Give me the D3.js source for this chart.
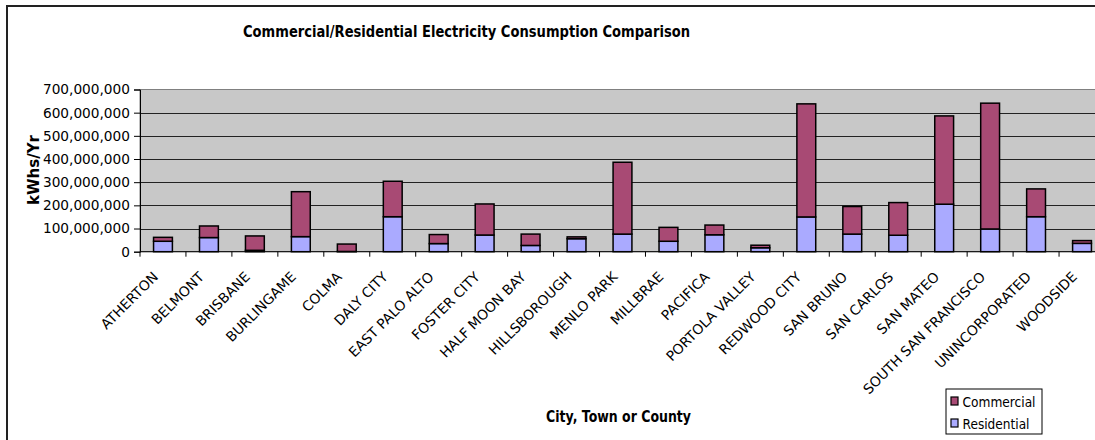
<!DOCTYPE html>
<html>
<head>
<meta charset="utf-8">
<script src="https://cdn.jsdelivr.net/npm/d3@7"></script>
<style>
  body { margin: 0; background: #fff; }
  svg text { font-family: "DejaVu Sans", Verdana, sans-serif; }
</style>
</head>
<body>
<div id="chart"></div>
<script>
// city list and the two stacked series, kWh per year
const cities = ["ATHERTON", "BELMONT", "BRISBANE", "BURLINGAME", "COLMA", "DALY CITY",
  "EAST PALO ALTO", "FOSTER CITY", "HALF MOON BAY", "HILLSBOROUGH", "MENLO PARK",
  "MILLBRAE", "PACIFICA", "PORTOLA VALLEY", "REDWOOD CITY", "SAN BRUNO", "SAN CARLOS",
  "SAN MATEO", "SOUTH SAN FRANCISCO", "UNINCORPORATED", "WOODSIDE"];

const residential = [45e6, 61e6, 6e6, 65e6, 1e6, 151e6, 35e6, 72e6, 27e6, 56e6, 76e6,
  45e6, 73e6, 17e6, 150e6, 76e6, 71e6, 205e6, 98e6, 151e6, 36e6];

const commercial = [17e6, 50e6, 62e6, 194e6, 32e6, 153e6, 39e6, 134e6, 49e6, 8e6, 310e6,
  60e6, 42e6, 11e6, 488e6, 119e6, 141e6, 381e6, 543e6, 120e6, 12e6];

const yTicks = [0, 100e6, 200e6, 300e6, 400e6, 500e6, 600e6, 700e6];

const seriesNames = ["Residential", "Commercial"];
const colors = { Residential: "#AAAAFF", Commercial: "#A84A74" };

const width = 1095, height = 440;
const plot = { left: 140, right: 1105, top: 89.5, bottom: 251.7 };

const svg = d3.select("#chart")
  .append("svg")
  .attr("width", width)
  .attr("height", height);

// outer chart frame (runs off the right and bottom of the window)
svg.append("rect")
  .attr("x", 7)
  .attr("y", 6)
  .attr("width", 1120)
  .attr("height", 460)
  .attr("fill", "#fff")
  .attr("stroke", "#222")
  .attr("stroke-width", 2);

svg.append("text")
  .attr("x", 466.5)
  .attr("y", 36.5)
  .attr("text-anchor", "middle")
  .attr("font-size", "15.5px")
  .attr("font-weight", "bold")
  .attr("textLength", 447)
  .attr("lengthAdjust", "spacingAndGlyphs")
  .text("Commercial/Residential Electricity Consumption Comparison");

const x = d3.scaleBand()
  .domain(cities)
  .range([plot.left, plot.right])
  .paddingInner(0.59)
  .paddingOuter(0.295);

const y = d3.scaleLinear()
  .domain([0, 700e6])
  .range([plot.bottom, plot.top]);

// plot area
svg.append("rect")
  .attr("x", plot.left)
  .attr("y", plot.top)
  .attr("width", plot.right - plot.left)
  .attr("height", plot.bottom - plot.top)
  .attr("fill", "#C8C8C8")
  .attr("stroke", "#808080")
  .attr("stroke-width", 1);

svg.selectAll(".grid")
  .data(yTicks.filter(d => d > 0 && d < 700e6))
  .enter()
  .append("line")
  .attr("x1", plot.left)
  .attr("x2", plot.right)
  .attr("y1", d => Math.round(y(d)) + 0.5)
  .attr("y2", d => Math.round(y(d)) + 0.5)
  .attr("stroke", "#222")
  .attr("stroke-width", 1);

const table = cities.map((c, i) => ({
  city: c,
  Residential: residential[i],
  Commercial: commercial[i]
}));

const stacked = d3.stack().keys(seriesNames)(table);

svg.selectAll(".series")
  .data(stacked)
  .enter()
  .append("g")
  .attr("fill", d => colors[d.key])
  .selectAll("rect")
  .data(d => d)
  .enter()
  .append("rect")
  .attr("x", d => x(d.data.city))
  .attr("y", d => y(d[1]))
  .attr("width", x.bandwidth())
  .attr("height", d => y(d[0]) - y(d[1]))
  .attr("stroke", "#000")
  .attr("stroke-width", 1.5);

// y axis
const yAxis = svg.append("g")
  .attr("transform", `translate(${plot.left},0)`)
  .call(d3.axisLeft(y).tickValues(yTicks).tickSize(6).tickPadding(4)
    .tickFormat(d3.format(",")));
yAxis.select(".domain").attr("stroke", "#000");
yAxis.selectAll("text")
  .attr("font-size", "13.7px")
  .attr("fill", "#000")
  .attr("font-family", "DejaVu Sans, Verdana, sans-serif");

// x axis, ticks between categories like Excel
const xAxis = svg.append("g")
  .attr("transform", `translate(0,${plot.bottom})`);
xAxis.append("line")
  .attr("x1", plot.left)
  .attr("x2", plot.right)
  .attr("stroke", "#000");
xAxis.selectAll(".xtick")
  .data(d3.range(cities.length + 1))
  .enter()
  .append("line")
  .attr("x1", i => plot.left + i * (plot.right - plot.left) / cities.length)
  .attr("x2", i => plot.left + i * (plot.right - plot.left) / cities.length)
  .attr("y1", 0)
  .attr("y2", 5)
  .attr("stroke", "#000");

xAxis.selectAll(".xlabel")
  .data(cities)
  .enter()
  .append("text")
  .attr("transform", d => `translate(${x(d) + x.bandwidth() / 2 - 4},${26}) rotate(-45)`)
  .attr("text-anchor", "end")
  .attr("font-size", "13.8px")
  .text(d => d);

// axis titles
svg.append("text")
  .attr("transform", "translate(38.5,170) rotate(-90)")
  .attr("text-anchor", "middle")
  .attr("font-size", "15px")
  .attr("font-weight", "bold")
  .attr("textLength", 70)
  .attr("lengthAdjust", "spacingAndGlyphs")
  .text("kWhs/Yr");

svg.append("text")
  .attr("x", 618.5)
  .attr("y", 421.5)
  .attr("text-anchor", "middle")
  .attr("font-size", "15px")
  .attr("font-weight", "bold")
  .attr("textLength", 145)
  .attr("lengthAdjust", "spacingAndGlyphs")
  .text("City, Town or County");

// legend
const legend = svg.append("g").attr("transform", "translate(946,389)");
legend.append("rect")
  .attr("width", 96)
  .attr("height", 45)
  .attr("fill", "#fff")
  .attr("stroke", "#000")
  .attr("stroke-width", 1);
const legendItems = ["Commercial", "Residential"];
const legendWidths = [73, 67];
legend.selectAll(".item")
  .data(legendItems)
  .enter()
  .append("rect")
  .attr("x", 5)
  .attr("y", (d, i) => 8 + i * 22)
  .attr("width", 7)
  .attr("height", 8)
  .attr("fill", d => colors[d])
  .attr("stroke", "#000")
  .attr("stroke-width", 1.2);
legend.selectAll(".label")
  .data(legendItems)
  .enter()
  .append("text")
  .attr("x", 16.5)
  .attr("y", (d, i) => 17.5 + i * 22)
  .attr("font-size", "14px")
  .attr("textLength", (d, i) => legendWidths[i])
  .attr("lengthAdjust", "spacingAndGlyphs")
  .text(d => d);
</script>
</body>
</html>
